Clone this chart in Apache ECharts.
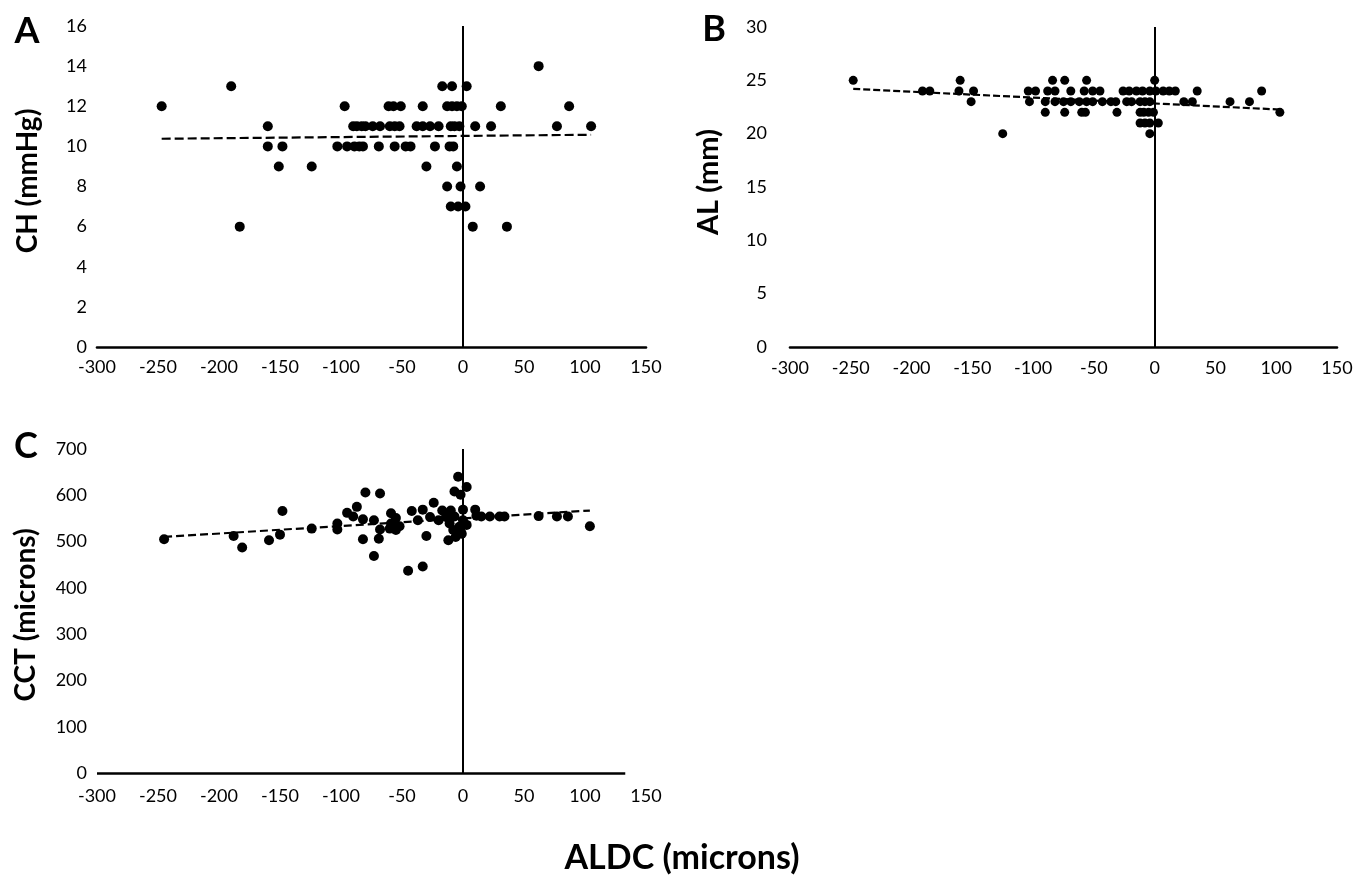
<!DOCTYPE html>
<html>
<head>
<meta charset="utf-8">
<script src="https://cdn.jsdelivr.net/npm/echarts@6/dist/echarts.min.js"></script>
<style>html,body{margin:0;padding:0;background:#fff;}#c{width:1368px;height:877px;}</style>
</head>
<body>
<div id="c"></div>
<script>
// ---- Data ----
const xTicks = [-300, -250, -200, -150, -100, -50, 0, 50, 100, 150];

// Panel A: CH (mmHg) vs ALDC (microns)
const aldcA = [
  62,
  -190, -17, -9, 3,
  -247, -97, -61, -57, -51, -33, -13, -9, -5, -1, 31, 87,
  -160, -90, -87, -83, -80, -74, -68, -60, -56, -52, -38, -33, -27, -20, -10, -7, -3, 10, 23, 77, 105,
  -160, -148, -103, -95, -89, -85, -82, -69, -56, -47, -43, -23, -11, -8,
  -151, -124, -30, -5,
  -13, -2, 14,
  -10, -4, 2,
  -183, 8, 36
];
const chVals = [
  14,
  13, 13, 13, 13,
  12, 12, 12, 12, 12, 12, 12, 12, 12, 12, 12, 12,
  11, 11, 11, 11, 11, 11, 11, 11, 11, 11, 11, 11, 11, 11, 11, 11, 11, 11, 11, 11, 11,
  10, 10, 10, 10, 10, 10, 10, 10, 10, 10, 10, 10, 10, 10,
  9, 9, 9, 9,
  8, 8, 8,
  7, 7, 7,
  6, 6, 6
];
const trendAx = [-247, 105];
const trendAy = [10.38, 10.58];

// Panel B: AL (mm) vs ALDC (microns)
const aldcB = [
  -248, -160, -84, -74, -56, 0,
  -191, -185, -161, -149, -104, -98, -88, -82, -69, -58, -51, -45, -26, -21, -15, -10, -4, 1, 7, 12, 17, 35, 88,
  -151, -103, -90, -82, -75, -69, -62, -56, -51, -43, -36, -32, -23, -19, -12, -8, -4, 24, 31, 62, 78,
  -90, -74, -60, -57, -31, -12, -9, -5, -1, 103,
  -12, -8, -4, 3,
  -125, -4
];
const alVals = [
  25, 25, 25, 25, 25, 25,
  24, 24, 24, 24, 24, 24, 24, 24, 24, 24, 24, 24, 24, 24, 24, 24, 24, 24, 24, 24, 24, 24, 24,
  23, 23, 23, 23, 23, 23, 23, 23, 23, 23, 23, 23, 23, 23, 23, 23, 23, 23, 23, 23, 23,
  22, 22, 22, 22, 22, 22, 22, 22, 22, 22,
  21, 21, 21, 21,
  20, 20
];
const trendBx = [-248, 105];
const trendBy = [24.2, 22.25];

// Panel C: CCT (microns) vs ALDC (microns)
const aldcC = [
  -245, -188, -181, -159, -150, -148, -124, -103, -103, -95, -87, -90, -82, -80, -82, -73,
  -68, -68, -69, -73, -59, -59, -55, -52, -60, -55, -42, -37, -33, -30, -45, -33,
  -24, -27, -20, -17, -14, -10, -11, -7, -12, -8, -5, -3, -1, -4, -7, -2,
  3, 0, 3, 0, 10, 11, 15, 22, 30, 34, 62, 77, 86, 104, -6, -2
];
const cctVals = [
  505, 512, 487, 503, 515, 566, 528, 539, 526, 562, 575, 554, 548, 606, 505, 546,
  604, 526, 506, 469, 561, 539, 551, 533, 528, 525, 566, 546, 569, 512, 437, 446,
  584, 553, 546, 567, 553, 567, 539, 554, 503, 525, 518, 532, 517, 640, 608, 601,
  618, 569, 536, 546, 569, 556, 554, 554, 554, 554, 555, 554, 554, 533, 510, 522
];
const trendCx = [-245, 104];
const trendCy = [510, 567];

const yRanges = [
  {min: 0, max: 16, interval: 2},
  {min: 0, max: 30, interval: 5},
  {min: 0, max: 700, interval: 100}
];

// ---- Build chart ----
const zip = (xs, ys) => xs.map((x, i) => [x, ys[i]]);
const FONT = 'Lato, "Open Sans", sans-serif';

const grids = [
  {left: 97, top: 26, width: 549, height: 321},
  {left: 790, top: 27, width: 547, height: 320},
  {left: 97, top: 449, width: 549, height: 324}
];
const xMargins = [11, 12, 14];
const yMargins = [10, 23, 10];

const xAxes = grids.map((g, i) => ({
  type: 'value', gridIndex: i,
  min: xTicks[0], max: xTicks[xTicks.length - 1], interval: xTicks[1] - xTicks[0],
  splitLine: {show: false},
  axisTick: {show: false},
  axisLine: {show: i < 2, onZero: false, lineStyle: {color: '#000', width: 2.6}},
  axisLabel: {color: '#000', fontSize: 18, fontFamily: FONT, margin: xMargins[i]}
}));
const yAxes = grids.map((g, i) => ({
  type: 'value', gridIndex: i,
  min: yRanges[i].min, max: yRanges[i].max, interval: yRanges[i].interval,
  splitLine: {show: false},
  axisTick: {show: false},
  axisLine: {show: false, onZero: false},
  axisLabel: {color: '#000', fontSize: 18, fontFamily: FONT, margin: yMargins[i]}
}));

const lineMark = (extra) => ({
  silent: true,
  symbol: ['none', 'none'],
  label: {show: false},
  emphasis: {disabled: true},
  lineStyle: {type: 'solid', color: '#000', width: 2},
  data: [{xAxis: 0}].concat(extra || [])
});

const panels = [
  {xs: aldcA, ys: chVals, tx: trendAx, ty: trendAy, size: 10, dash: [9, 4]},
  {xs: aldcB, ys: alVals, tx: trendBx, ty: trendBy, size: 9, dash: [7, 3]},
  {xs: aldcC, ys: cctVals, tx: trendCx, ty: trendCy, size: 10, dash: [8, 4]}
];

const series = [];
panels.forEach((p, i) => {
  series.push({
    type: 'line', xAxisIndex: i, yAxisIndex: i,
    data: zip(p.tx, p.ty), symbol: 'none', silent: true,
    lineStyle: {color: '#000', width: 2.2, type: p.dash}, z: 2
  });
  series.push({
    type: 'scatter', xAxisIndex: i, yAxisIndex: i,
    data: zip(p.xs, p.ys), symbol: 'circle', symbolSize: p.size,
    itemStyle: {color: '#000', opacity: 1}, z: 3,
    markLine: lineMark(i === 2 ? [[{coord: [-300, 0]}, {coord: [133, 0]}]] : [])
  });
});
// thicker horizontal axis line for C
series[5].markLine.data[1][0].lineStyle = {width: 2.6};

const txt = (text, x, y, size, rot) => ({
  type: 'text', x: x, y: y, rotation: rot ? Math.PI / 2 : 0,
  style: {text: text, fill: '#000', font: 'bold ' + size + 'px ' + FONT,
          align: 'center', verticalAlign: 'middle'}
});

const option = {
  animation: false,
  backgroundColor: '#fff',
  grid: grids,
  xAxis: xAxes,
  yAxis: yAxes,
  series: series,
  graphic: [
    txt('A', 27, 31, 36),
    txt('B', 714, 29, 36),
    txt('C', 26, 446, 36),
    txt('CH (mmHg)', 28, 181, 28, true),
    txt('AL (mm)', 709, 182, 29, true),
    txt('CCT (microns)', 26, 615, 28, true),
    txt('ALDC (microns)', 682, 858, 34)
  ]
};

const chart = echarts.init(document.getElementById('c'), null, {renderer: 'canvas'});
chart.setOption(option);
</script>
</body>
</html>
